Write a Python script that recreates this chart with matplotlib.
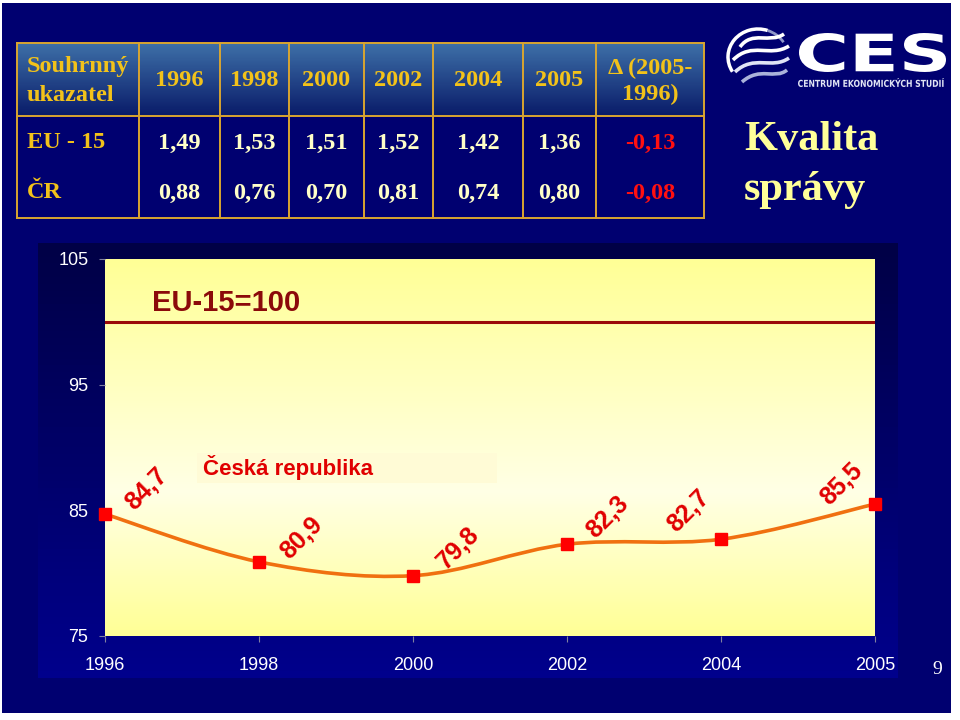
import matplotlib
matplotlib.use('Agg')
import matplotlib.pyplot as plt
import numpy as np
from matplotlib.path import Path
from matplotlib.patches import PathPatch, Rectangle, Arc
from matplotlib.textpath import TextPath
from matplotlib.font_manager import FontProperties
from matplotlib.transforms import Affine2D

# data
roky = ['1996', '1998', '2000', '2002', '2004', '2005']
cr_index = [84.7, 80.9, 79.8, 82.3, 82.7, 85.5]
popisky = ['84,7', '80,9', '79,8', '82,3', '82,7', '85,5']
eu_uroven = 100
y_ticks = [75, 85, 95, 105]

tab_hlavicka = ['Souhrnný\nukazatel', '1996', '1998', '2000', '2002', '2004', '2005', 'Δ (2005-\n1996)']
tab_eu = ['EU - 15', '1,49', '1,53', '1,51', '1,52', '1,42', '1,36', '-0,13']
tab_cr = ['ČR', '0,88', '0,76', '0,70', '0,81', '0,74', '0,80', '-0,08']

NAVY = '#000070'
GOLD = '#f2c21a'
serif = 'Liberation Serif'
sans = 'Liberation Sans'

fig = plt.figure(figsize=(9.6, 7.2), dpi=100, facecolor='white')

# pozadi slidu v pixelovych souradnicich
bg = fig.add_axes([0, 0, 1, 1])
bg.set_xlim(0, 960)
bg.set_ylim(720, 0)
bg.axis('off')
bg.add_patch(Rectangle((2, 3), 949, 710, facecolor=NAVY, edgecolor='none'))

# tmavsi ramecek grafu (gradient)
ramec = np.linspace(0, 1, 64)[:, None, None] * np.array([0, 0, 70])[None, None, :] + np.array([0, 0, 70])
bg.imshow(ramec.astype(np.uint8), extent=(38, 898, 678, 243), aspect='auto', origin='upper', zorder=1)

# tabulka
sloupce = [17, 139, 220, 289, 364, 433, 523, 596, 704]
horni, hlav_dole, dole = 43, 116, 218
grad = np.linspace(0, 1, 64)[:, None, None]
top_c = np.array([62, 112, 168])
bot_c = np.array([10, 28, 105])
hl = (top_c * (1 - grad) + bot_c * grad).astype(np.uint8)
bg.imshow(hl, extent=(sloupce[0], sloupce[-1], hlav_dole, horni), aspect='auto', origin='upper', zorder=2)
for xs in sloupce:
    bg.plot([xs, xs], [horni, dole], color='#d9a530', lw=1.4, zorder=3)
for ys in [horni, hlav_dole, dole]:
    bg.plot([sloupce[0], sloupce[-1]], [ys, ys], color='#d9a530', lw=1.4, zorder=3)

FS = 17.5
for i, txt in enumerate(tab_hlavicka):
    if i == 0:
        bg.text(sloupce[0] + 10, 81, txt, ha='left', va='center', color=GOLD, fontsize=FS,
                family=serif, weight='bold', linespacing=1.45, zorder=4)
    else:
        cx = (sloupce[i] + sloupce[i + 1]) / 2
        bg.text(cx, 81, txt, ha='center', va='center', color=GOLD, fontsize=FS,
                family=serif, weight='bold', linespacing=1.3, zorder=4)

for radek, yy in [(tab_eu, 143), (tab_cr, 193)]:
    for i, txt in enumerate(radek):
        if i == 0:
            bg.text(sloupce[0] + 10, yy, txt, ha='left', va='center', color=GOLD, fontsize=FS,
                    family=serif, weight='bold', zorder=4)
        else:
            cx = (sloupce[i] + sloupce[i + 1]) / 2
            barva = '#ff1010' if i == len(radek) - 1 else '#ffffc8'
            bg.text(cx, yy, txt, ha='center', va='center', color=barva, fontsize=FS,
                    family=serif, weight='bold', zorder=4)

# nadpis
bg.text(744, 140, 'Kvalita', ha='left', va='center', color='#ffff99', fontsize=30.5,
        family=serif, weight='bold', zorder=4)
bg.text(744, 190, 'správy', ha='left', va='center', color='#ffff99', fontsize=30.5,
        family=serif, weight='bold', zorder=4)


# logo CES
def text_do_boxu(txt, x0, x1, y0, y1, prop, barva):
    tp = TextPath((0, 0), txt, size=1, prop=prop)
    ext = tp.get_extents()
    sx = (x1 - x0) / ext.width
    sy = (y1 - y0) / ext.height
    tr = Affine2D().translate(-ext.x0, -ext.y0).scale(sx, -sy).translate(x0, y1) + bg.transData
    bg.add_patch(PathPatch(tp, facecolor=barva, edgecolor='none', transform=tr, zorder=5))


text_do_boxu('CES', 799, 946, 33, 72, FontProperties(family='DejaVu Sans', weight='bold'), 'white')
text_do_boxu('CENTRUM EKONOMICKÝCH STUDIÍ', 798, 944, 78, 87,
             FontProperties(family='DejaVu Sans', weight='bold'), '#e0e4f4')

# globus se vlnkami
bg.add_patch(Arc((758, 57), 60, 56, theta1=150, theta2=290, color='white', lw=2.5, zorder=5))
bg.add_patch(Arc((758, 57), 60, 56, theta1=290, theta2=330, color='#9098c8', lw=2, zorder=5))
vlny = [((740, 47), (752, 30), (770, 44), (784, 34), 'white'),
        ((733, 60), (752, 41), (770, 58), (789, 46), 'white'),
        ((735, 72), (754, 54), (772, 70), (789, 58), '#dfe3f5'),
        ((742, 82), (760, 66), (775, 80), (787, 70), '#aab2da')]
for p0, c1, c2, p1, c in vlny:
    bg.add_patch(PathPatch(Path([p0, c1, c2, p1], [Path.MOVETO, Path.CURVE4, Path.CURVE4, Path.CURVE4]),
                           facecolor='none', edgecolor=c, lw=2.6, zorder=5))

bg.text(937, 670, '9', ha='center', va='center', color='white', fontsize=14, family=serif, zorder=4)

# graf
ax = fig.add_axes([105 / 960, 84 / 720, 770 / 960, 377 / 720])
ax.set_zorder(3)
x = np.arange(len(roky))
ax.set_xlim(0, len(roky) - 1)
ax.set_ylim(y_ticks[0], y_ticks[-1])

# gradient pozadi plochy grafu
f = np.linspace(0, 1, 200)
svetlost = np.interp(f, [0, 0.62, 1], [150, 230, 150])
plocha = np.stack([np.full_like(f, 255), np.full_like(f, 255), svetlost], axis=1)[:, None, :]
ax.imshow(plocha.astype(np.uint8), extent=(0, 1, 0, 1), transform=ax.transAxes,
          aspect='auto', origin='upper', zorder=0)

# rámeček legendy
ax.add_patch(Rectangle((0.119, 0.406), 0.39, 0.079, transform=ax.transAxes,
                       facecolor='#fffbd6', edgecolor='none', zorder=1))

ax.axhline(eu_uroven, color='#9a0a0a', lw=2.2, zorder=2)
ax.text(0.061, 0.883, 'EU-15=100', transform=ax.transAxes, ha='left', va='center',
        color='#8b0a0a', fontsize=21, family=sans, weight='bold', zorder=3)
ax.text(0.127, 0.446, 'Česká republika', transform=ax.transAxes, ha='left', va='center',
        color='#e00000', fontsize=16, family=sans, weight='bold', zorder=3)

# vyhlazena cara (Bezier jako v Excelu)
pts = np.column_stack([x, cr_index]).astype(float)
n = len(pts)
verts = [pts[0]]
codes = [Path.MOVETO]
for i in range(n - 1):
    p0 = pts[i - 1] if i > 0 else pts[i]
    p3 = pts[i + 2] if i + 2 < n else pts[i + 1]
    verts += [pts[i] + (pts[i + 1] - p0) / 6, pts[i + 1] - (p3 - pts[i]) / 6, pts[i + 1]]
    codes += [Path.CURVE4] * 3
ax.add_patch(PathPatch(Path(verts, codes), facecolor='none', edgecolor='#f07010', lw=2.6,
                       zorder=4, clip_on=False))
ax.plot(x, cr_index, ls='none', marker='s', ms=8.5, color='#ff0000', zorder=5, clip_on=False)

posuny = [(42, 25), (43, 24), (45, 28), (41, 27), (-32, 28), (-33, 20)]
for xi, yi, txt, (dx, dy) in zip(x, cr_index, popisky, posuny):
    ax.annotate(txt, (xi, yi), xytext=(dx, dy), textcoords='offset pixels', rotation=45,
                ha='center', va='center', color='#e00000', fontsize=18, family=sans,
                weight='bold', zorder=6, annotation_clip=False)

ax.set_xticks(x)
ax.set_xticklabels(roky)
ax.set_yticks(y_ticks)
ax.tick_params(axis='both', colors='#8080a0', length=4, labelcolor='white', labelsize=13)
ax.tick_params(axis='x', pad=11)
ax.tick_params(axis='y', pad=8)
for lab in ax.get_xticklabels() + ax.get_yticklabels():
    lab.set_family(sans)
for s in ax.spines.values():
    s.set_visible(False)

fig.savefig('out.png', dpi=100, facecolor=fig.get_facecolor())
